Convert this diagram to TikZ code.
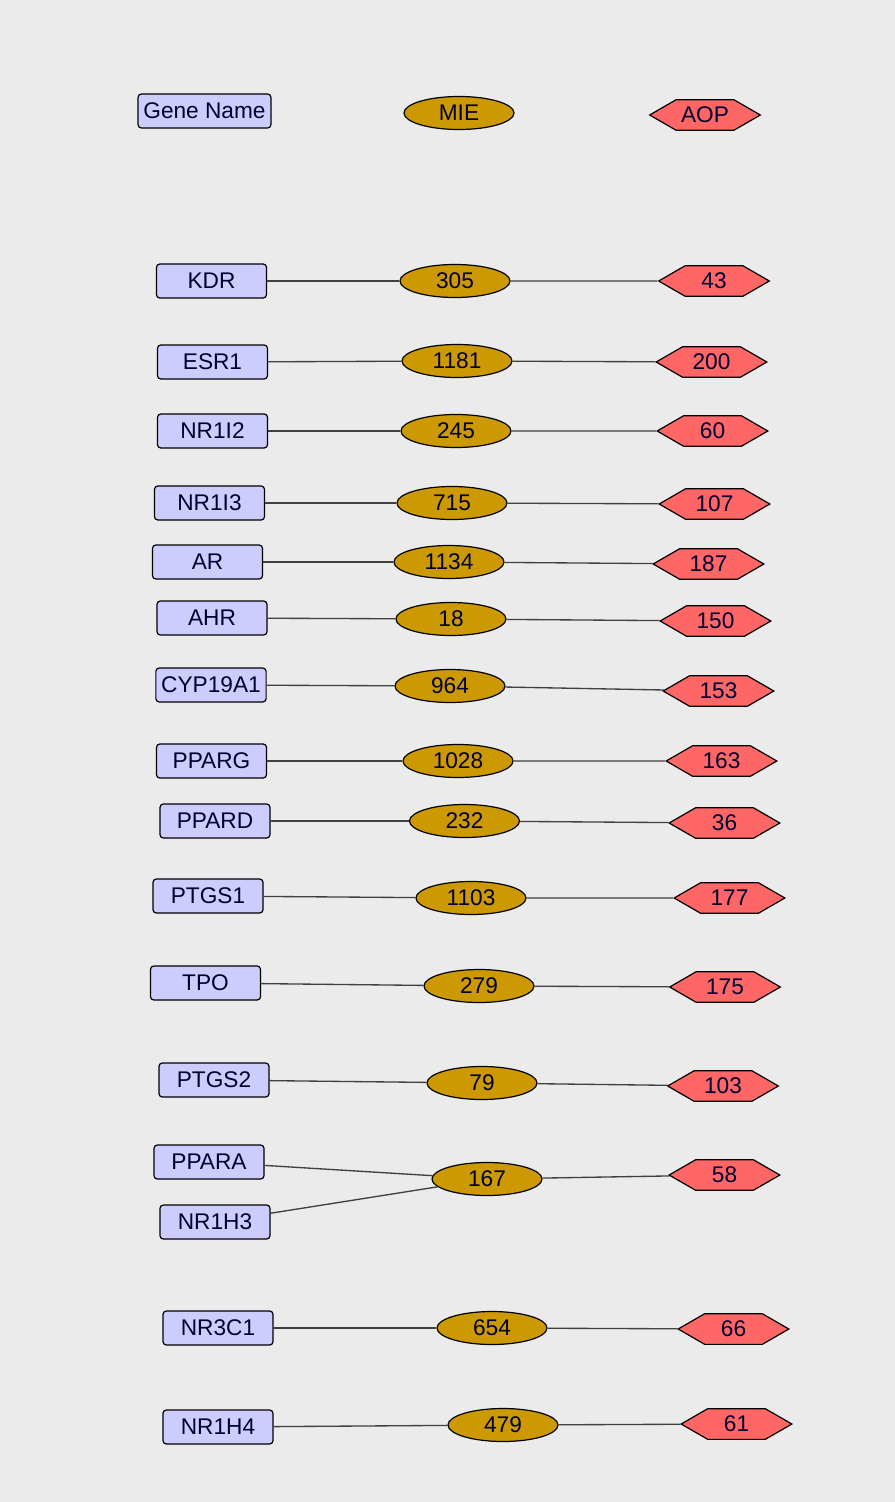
\documentclass[tikz,border=0pt]{standalone}
\usepackage{fontspec}
\setmainfont{Liberation Sans}
\usetikzlibrary{shapes.geometric,shapes.symbols}
\definecolor{genefill}{HTML}{CCCCFF}
\definecolor{miefill}{HTML}{CC9900}
\definecolor{aopfill}{HTML}{FF6666}
\definecolor{labtext}{HTML}{000033}
\definecolor{bgcol}{HTML}{EBEBEB}
\definecolor{edgecol}{HTML}{404040}
\tikzset{
  gene/.style={draw,line width=.9pt,fill=genefill,rounded corners=2.5pt,minimum width=82.5pt,minimum height=25.5pt,inner xsep=4pt,inner ysep=0pt,text=labtext},
  mie/.style={draw,line width=.9pt,ellipse,fill=miefill,minimum width=82.5pt,minimum height=24.75pt,inner sep=0pt,text=labtext},
  aop/.style={draw,line width=.9pt,signal,signal to=east and west,signal pointer angle=60,fill=aopfill,minimum width=83pt,minimum height=23pt,inner sep=0pt,text=labtext},
  link/.style={edgecol,line width=1pt}
}
\begin{document}
\begin{tikzpicture}[x=.75pt,y=-.75pt,font=\fontsize{17}{19}\selectfont]
    \fill[bgcol] (0,0) rectangle (895,1502);
    \useasboundingbox (0,0) rectangle (895,1502);
    \node[gene] (head) at (204.5,111) {Gene Name};
    \node[mie] (mhead) at (459,113) {MIE};
    \node[aop] (ahead) at (705,115) {AOP};
    \foreach\g/\gx/\gy/\m/\mx/\my/\a/\ax/\ay in {
      KDR/211.5/281/305/455/281/43/714/281,
      ESR1/212.5/362/1181/457/361/200/711.5/362,
      NR1I2/212.5/431/245/456/431/60/712.5/431,
      NR1I3/209.5/503/715/452/503/107/714.5/504,
      AR/207.5/562/1134/449/562/187/708.5/564,
      AHR/212/618/18/451/619/150/715.5/621,
      CYP19A1/211/685/964/450/686/153/718.5/691,
      PPARG/211.5/761/1028/458/761/163/721.5/761,
      PPARD/215/821/232/464.5/821/36/724.5/823,
      PTGS1/208/896/1103/471/898/177/729.5/898,
      TPO/205.5/983/279/479/986/175/725/987,
      PTGS2/214/1080/79/482/1083/103/723/1086,
      NR3C1/218/1328/654/492/1328/66/733.5/1329,
      NR1H4/218/1427/479/503/1425/61/736.5/1424}
    {
      \node[gene] (\g) at (\gx,\gy) {\g};
      \node[mie] (m\g) at (\mx,\my) {\m};
      \node[aop] (a\g) at (\ax,\ay) {\a};
      \draw[link] (\g) -- (m\g);
      \draw[link] (m\g) -- (a\g);
    }
    \node[gene] (PPARA) at (209,1162) {PPARA};
    \node[gene] (NR1H3) at (215,1222) {NR1H3};
    \node[mie] (mPPARA) at (487,1179) {167};
    \node[aop] (aPPARA) at (724.5,1175) {58};
    \draw[link] (PPARA) -- (mPPARA);
    \draw[link] (NR1H3) -- (mPPARA);
    \draw[link] (mPPARA) -- (aPPARA);
\end{tikzpicture}
\end{document}
